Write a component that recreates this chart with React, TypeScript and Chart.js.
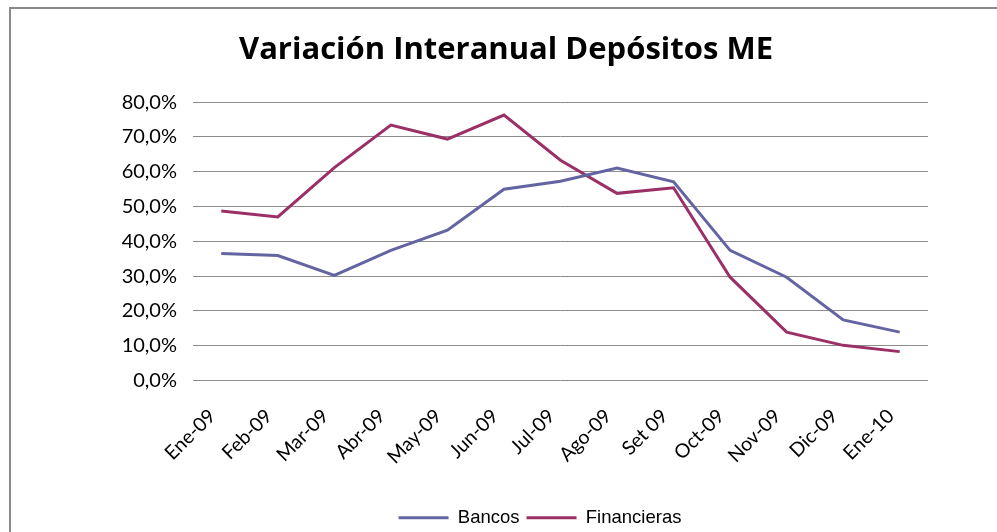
import React, { useEffect, useRef } from "react";
import { Chart, registerables } from "chart.js";

Chart.register(...registerables);

const categories = ["Ene-09", "Feb-09", "Mar-09", "Abr-09", "May-09", "Jun-09", "Jul-09", "Ago-09", "Set 09", "Oct-09", "Nov-09", "Dic-09", "Ene-10"];
const bancos = [36.5, 35.9, 30.2, 37.4, 43.2, 55.0, 57.3, 61.1, 57.1, 37.4, 29.7, 17.4, 13.9];
const financieras = [48.7, 47.0, 61.2, 73.4, 69.4, 76.3, 63.3, 53.8, 55.4, 29.7, 13.9, 10.1, 8.3];
const yTicks = [0, 10, 20, 30, 40, 50, 60, 70, 80];
const title = "Variación Interanual Depósitos ME";

const shiftLegend = {
  id: "shiftLegend",
  afterLayout(chart: any) {
    if (chart.legend) {
      chart.legend.left += 34;
      chart.legend.right += 34;
    }
  },
};

export default function App() {
  const ref = useRef<HTMLCanvasElement | null>(null);
  useEffect(() => {
    if (!ref.current) return;
    const chart = new Chart(ref.current, {
      type: "line",
      data: {
        labels: categories,
        datasets: [
          { label: "Bancos", data: bancos, borderColor: "#6464A2", backgroundColor: "#6464A2", borderWidth: 3, pointRadius: 0, tension: 0 },
          { label: "Financieras", data: financieras, borderColor: "#9B3066", backgroundColor: "#9B3066", borderWidth: 3, pointRadius: 0, tension: 0 },
        ],
      },
      plugins: [shiftLegend],
      options: {
        animation: false,
        responsive: true,
        maintainAspectRatio: false,
        layout: { padding: { left: 84, right: 69, top: 32, bottom: -5 } },
        plugins: {
          title: {
            display: true,
            text: title,
            color: "#000",
            font: { family: "'Open Sans'", size: 31, weight: "bold" },
            padding: { top: 0, bottom: 33 },
          },
          legend: {
            position: "bottom",
            labels: {
              usePointStyle: true,
              pointStyle: "line",
              pointStyleWidth: 50,
              color: "#000",
              font: { family: "'Liberation Sans'", size: 18.5 },
              padding: 7,
            },
          },
          tooltip: { enabled: false },
        },
        scales: {
          x: {
            offset: true,
            grid: { display: false, drawTicks: false },
            border: { display: false },
            ticks: { minRotation: 45, maxRotation: 45, color: "#000", font: { family: "Lato", size: 19.5 }, padding: 24, labelOffset: -9 },
            afterFit: (s: any) => { s.height = 121; },
          },
          y: {
            min: 0,
            max: 80,
            afterBuildTicks: (s: any) => { s.ticks = yTicks.map((v) => ({ value: v })); },
            afterFit: (s: any) => { s.width = 109; },
            grid: { color: "#8C8C8C", lineWidth: 1, drawTicks: false },
            border: { display: false },
            ticks: {
              color: "#000",
              padding: 16,
              font: { family: "Lato", size: 20 },
              callback: (v: any) => Number(v).toFixed(1).replace(".", ",") + "%",
            },
          },
        },
      },
    });
    return () => chart.destroy();
  }, []);
  return (
    <div style={{ position: "fixed", left: 0, top: 0, width: 997, height: 532, overflow: "hidden", background: "#fff" }}>
      <div style={{ position: "absolute", left: 9, top: 7, width: 1010, height: 560, border: "2px solid #8a8a8a", boxSizing: "border-box" }} />
      <div style={{ position: "absolute", left: 0, top: 0, width: 997, height: 532 }}>
        <canvas ref={ref} />
      </div>
    </div>
  );
}
